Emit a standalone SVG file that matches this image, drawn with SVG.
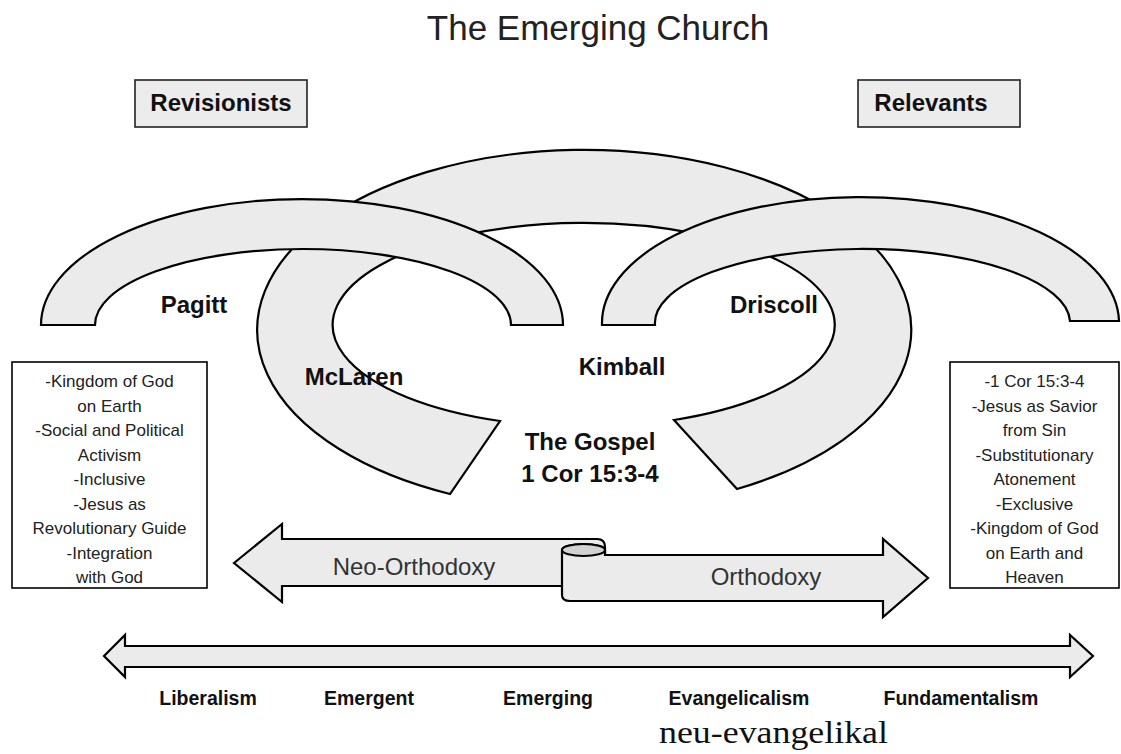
<svg xmlns="http://www.w3.org/2000/svg" width="1121" height="754" viewBox="0 0 1121 754">
<style>
.shape{fill:#ebebeb;stroke:#000;stroke-width:2.2;stroke-linejoin:miter}
.box{fill:#fff;stroke:#000;stroke-width:1.6}
.hbox{fill:#ececec;stroke:#222;stroke-width:1.6}
.lbl{font-family:"Liberation Sans",Arial,sans-serif;font-weight:bold;font-size:24px;fill:#111;text-anchor:middle}
.hdr{font-family:"Liberation Sans",Arial,sans-serif;font-weight:bold;font-size:24px;fill:#111;text-anchor:middle}
.lst{font-family:"Liberation Sans",Arial,sans-serif;font-size:17px;fill:#222;text-anchor:middle}
.arr{font-family:"Liberation Sans",Arial,sans-serif;font-size:24px;fill:#333;text-anchor:middle}
.bot{font-family:"Liberation Sans",Arial,sans-serif;font-weight:bold;font-size:19.5px;fill:#111;text-anchor:middle}
</style>
<rect width="1121" height="754" fill="#fff"/>
<text x="598" y="40" font-family="Liberation Sans, Arial, sans-serif" font-size="35" fill="#222" text-anchor="middle">The Emerging Church</text>

<g id="revisionists">
<rect class="hbox" x="135" y="80" width="172" height="47"/>
<text class="hdr" x="221" y="111">Revisionists</text>
</g>
<g id="relevants">
<rect class="hbox" x="858" y="80" width="162" height="47"/>
<text class="hdr" x="931" y="111">Relevants</text>
</g>

<g id="mclaren-kimball-arc">
<path class="shape" d="M450,494 A327,180 0 1 1 737,489 L674,420 A251,102 0 1 0 500,421 Z"/>
</g>
<g id="pagitt-arc">
<path class="shape" d="M41,325 A261,126 0 0 1 563,325 L511,325 A208,76 0 0 0 95,325 Z"/>
</g>
<g id="driscoll-arc">
<path class="shape" d="M602,325 A258.5,126 0 0 1 1119,321 L1070,321 A207.5,74 0 0 0 655,325 Z"/>
</g>

<g id="labels">
<text class="lbl" x="194" y="313">Pagitt</text>
<text class="lbl" x="354" y="385">McLaren</text>
<text class="lbl" x="622" y="375">Kimball</text>
<text class="lbl" x="774" y="313">Driscoll</text>
<text class="lbl" x="590" y="450">The Gospel</text>
<text class="lbl" x="590" y="482">1 Cor 15:3-4</text>
</g>

<g id="left-list">
<rect class="box" x="12" y="362" width="195" height="226"/>
<text class="lst" x="109.5" y="387">-Kingdom of God</text>
<text class="lst" x="109.5" y="411.5">on Earth</text>
<text class="lst" x="109.5" y="436">-Social and Political</text>
<text class="lst" x="109.5" y="460.5">Activism</text>
<text class="lst" x="109.5" y="485">-Inclusive</text>
<text class="lst" x="109.5" y="509.5">-Jesus as</text>
<text class="lst" x="109.5" y="534">Revolutionary Guide</text>
<text class="lst" x="109.5" y="558.5">-Integration</text>
<text class="lst" x="109.5" y="583">with God</text>
</g>

<g id="right-list">
<rect class="box" x="950" y="362" width="169" height="226"/>
<text class="lst" x="1034.5" y="387">-1 Cor 15:3-4</text>
<text class="lst" x="1034.5" y="411.5">-Jesus as Savior</text>
<text class="lst" x="1034.5" y="436">from Sin</text>
<text class="lst" x="1034.5" y="460.5">-Substitutionary</text>
<text class="lst" x="1034.5" y="485">Atonement</text>
<text class="lst" x="1034.5" y="509.5">-Exclusive</text>
<text class="lst" x="1034.5" y="534">-Kingdom of God</text>
<text class="lst" x="1034.5" y="558.5">on Earth and</text>
<text class="lst" x="1034.5" y="583">Heaven</text>
</g>

<g id="connectors">
<g id="neo-orthodoxy-arrow">
<path class="shape" d="M234,563 L282,524 L282,539 L597,539 Q605,539 605,547 L605,586 L282,586 L282,602 Z"/>
</g>
<g id="orthodoxy-arrow">
<path class="shape" d="M562,551 L562,595 Q562,601 570,601 L883,601 L883,617 L928,578 L883,539 L883,555 L605,555 L605,550 A21.5,6 0 0 0 562,550 Z"/>
<path d="M562,550 A21.5,6 0 0 0 605,550 A21.5,6 0 0 0 562,550 Z" fill="#d2d2d2" stroke="#000" stroke-width="2"/>
</g>
<g id="spectrum-arrow">
<path class="shape" d="M104,656 L125,635 L125,646 L1070,646 L1070,635 L1093,656 L1070,677 L1070,667 L125,667 L125,677 Z"/>
</g>
</g>

<text class="arr" x="414" y="575">Neo-Orthodoxy</text>
<text class="arr" x="766" y="585">Orthodoxy</text>

<g id="spectrum-labels">
<text class="bot" x="208" y="705">Liberalism</text>
<text class="bot" x="369" y="705">Emergent</text>
<text class="bot" x="548" y="705">Emerging</text>
<text class="bot" x="739" y="705">Evangelicalism</text>
<text class="bot" x="961" y="705">Fundamentalism</text>
</g>
<text x="659" y="743" font-family="Liberation Serif, Times New Roman, serif" font-size="31" fill="#111" textLength="229" lengthAdjust="spacingAndGlyphs">neu-evangelikal</text>
</svg>
